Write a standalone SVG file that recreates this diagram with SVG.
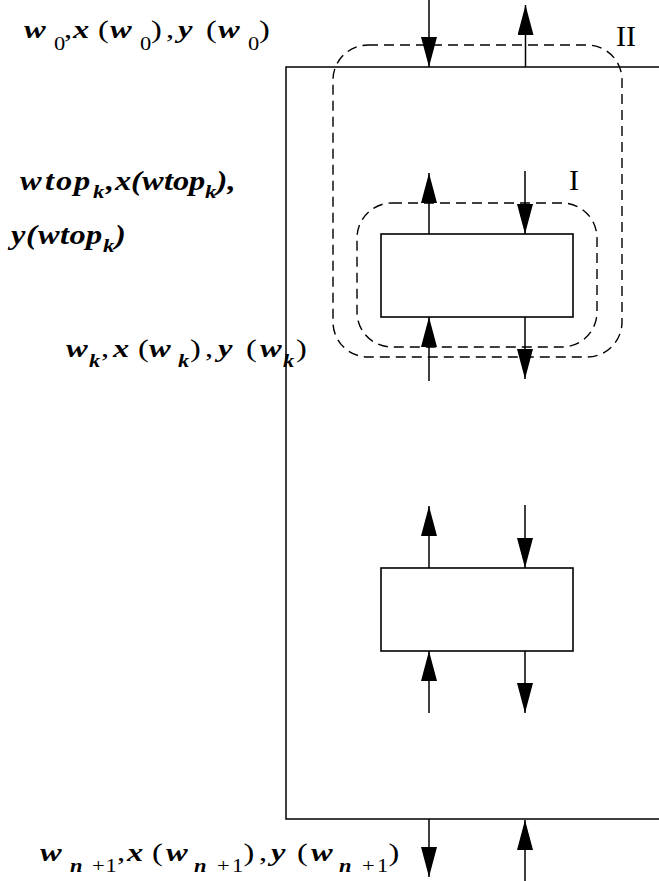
<svg xmlns="http://www.w3.org/2000/svg" width="659" height="881" viewBox="0 0 659 881">
<style>
.ln{stroke:#000;stroke-width:1.5;fill:none}
.bx{stroke:#000;stroke-width:1.6;fill:#fff}
.dash{stroke:#000;stroke-width:1.4;fill:none;stroke-dasharray:10 6}
.ar{stroke:#000;stroke-width:1.5;fill:none;marker-end:url(#ah)}
.m{font-family:"Liberation Serif","Times New Roman",serif;font-size:26px;font-weight:bold;font-style:italic;fill:#000}
.r{font-weight:normal;font-style:normal}
.s{font-size:18px}
.p{font-family:"Liberation Serif","Times New Roman",serif;font-size:27px;font-weight:bold;font-style:italic;fill:#000}
.ps{font-size:19px}
.rom{font-family:"Liberation Serif","Times New Roman",serif;font-size:30px;fill:#000}
</style>
<defs>
<marker id="ah" viewBox="0 0 30 16" refX="30" refY="8" markerWidth="30" markerHeight="16" markerUnits="userSpaceOnUse" orient="auto">
<path d="M0,0 L30,8 L0,16 Z" fill="#000"/>
</marker>
</defs>

<g id="frame">
<path class="ln" d="M659,67 H286 V819 H659"/>
</g>

<g id="region-II">
<rect class="dash" x="333" y="45" width="289" height="312" rx="35" ry="35"/>
<text class="rom" x="616" y="46">II</text>
</g>

<g id="region-I">
<rect class="dash" x="357" y="203" width="240" height="144" rx="35" ry="35"/>
<text class="rom" x="569" y="190">I</text>
</g>

<g id="box1">
<rect class="bx" x="381" y="234" width="192" height="83"/>
</g>

<g id="box2">
<rect class="bx" x="381" y="568" width="192" height="83"/>
</g>

<g id="connectors">
<line class="ar" x1="429" y1="0" x2="429" y2="67"/>
<line class="ar" x1="525.5" y1="67" x2="525.5" y2="5"/>
<line class="ar" x1="429" y1="234" x2="429" y2="173"/>
<line class="ar" x1="525" y1="171" x2="525" y2="234"/>
<line class="ar" x1="429" y1="381" x2="429" y2="317"/>
<line class="ar" x1="525" y1="317" x2="525" y2="379"/>
<line class="ar" x1="429" y1="568" x2="429" y2="506"/>
<line class="ar" x1="525" y1="505" x2="525" y2="568"/>
<line class="ar" x1="429" y1="713" x2="429" y2="651"/>
<line class="ar" x1="525" y1="651" x2="525" y2="713"/>
<line class="ar" x1="429" y1="819" x2="429" y2="877"/>
<line class="ar" x1="525" y1="881" x2="525" y2="820"/>
</g>

<g id="label-w0">
<text class="m" transform="scale(1.25,1)"><tspan x="19.2" y="38">w</tspan><tspan class="r s" x="43.2" y="50">0</tspan><tspan class="r" x="51.2" y="38">,</tspan><tspan x="58.4" y="38">x</tspan><tspan class="r" x="78.4" y="38">(</tspan><tspan x="88" y="38">w</tspan><tspan class="r s" x="112" y="50">0</tspan><tspan class="r" x="120.8" y="38">)</tspan><tspan class="r" x="132.8" y="38">,</tspan><tspan x="142.4" y="38">y</tspan><tspan class="r" x="164.8" y="38">(</tspan><tspan x="174.4" y="38">w</tspan><tspan class="r s" x="198.4" y="50">0</tspan><tspan class="r" x="207.2" y="38">)</tspan></text>
</g>

<g id="label-wtop">
<text class="p" transform="scale(1.2,1)"><tspan x="16.67" y="190">w</tspan><tspan x="37.5" y="190">t</tspan><tspan x="46.67" y="190">o</tspan><tspan x="61.67" y="190">p</tspan><tspan class="ps" x="77.5" y="198">k</tspan><tspan x="88.33" y="190">,</tspan><tspan x="95.83" y="190">x</tspan><tspan x="109.17" y="190">(</tspan><tspan x="118.33" y="190">w</tspan><tspan x="136.67" y="190">t</tspan><tspan x="144.17" y="190">o</tspan><tspan x="157.5" y="190">p</tspan><tspan class="ps" x="170.83" y="198">k</tspan><tspan x="180.42" y="190">)</tspan><tspan x="189.58" y="190">,</tspan></text>
<text class="p" transform="scale(1.2,1)"><tspan x="9.17" y="244">y</tspan><tspan x="21.67" y="244">(</tspan><tspan x="31.67" y="244">w</tspan><tspan x="50" y="244">t</tspan><tspan x="57.92" y="244">o</tspan><tspan x="71.67" y="244">p</tspan><tspan class="ps" x="85.83" y="252">k</tspan><tspan x="95.83" y="244">)</tspan></text>
</g>

<g id="label-wk">
<text class="m" transform="scale(1.25,1)"><tspan x="52.8" y="357">w</tspan><tspan class="s" x="71.2" y="367">k</tspan><tspan class="r" x="80.8" y="357">,</tspan><tspan x="90.4" y="357">x</tspan><tspan class="r" x="110.4" y="357">(</tspan><tspan x="119.2" y="357">w</tspan><tspan class="s" x="142.4" y="367">k</tspan><tspan class="r" x="152" y="357">)</tspan><tspan class="r" x="164" y="357">,</tspan><tspan x="174.4" y="357">y</tspan><tspan class="r" x="196.8" y="357">(</tspan><tspan x="208" y="357">w</tspan><tspan class="s" x="226.4" y="367">k</tspan><tspan class="r" x="236.8" y="357">)</tspan></text>
</g>

<g id="label-wn1">
<text class="m" transform="scale(1.25,1)"><tspan x="32" y="861">w</tspan><tspan class="s" x="56" y="872">n</tspan><tspan class="r s" x="73.6" y="872">+</tspan><tspan class="r s" x="84.4" y="872">1</tspan><tspan class="r" x="93.6" y="861">,</tspan><tspan x="101.6" y="861">x</tspan><tspan class="r" x="121.6" y="861">(</tspan><tspan x="132.8" y="861">w</tspan><tspan class="s" x="155.2" y="872">n</tspan><tspan class="r s" x="173.6" y="872">+</tspan><tspan class="r s" x="185.6" y="872">1</tspan><tspan class="r" x="194.8" y="861">)</tspan><tspan class="r" x="207.2" y="861">,</tspan><tspan x="216.8" y="861">y</tspan><tspan class="r" x="237.6" y="861">(</tspan><tspan x="248.8" y="861">w</tspan><tspan class="s" x="271.2" y="872">n</tspan><tspan class="r s" x="289.6" y="872">+</tspan><tspan class="r s" x="301.6" y="872">1</tspan><tspan class="r" x="310.8" y="861">)</tspan></text>
</g>
</svg>
